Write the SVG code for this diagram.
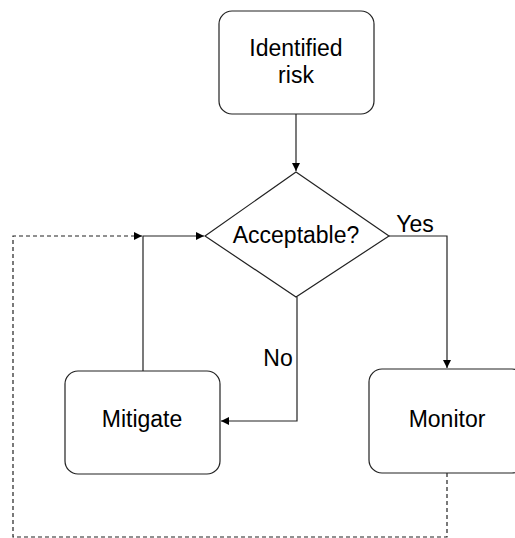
<svg xmlns="http://www.w3.org/2000/svg" width="515" height="538" viewBox="0 0 515 538">
<style>
.box{fill:#fff;stroke:#222;stroke-width:1.2}
.t{font-family:"Liberation Sans",Arial,sans-serif;font-size:23px;fill:#000;text-anchor:middle}
.c{fill:none;stroke:#222;stroke-width:1.2}
.d{fill:none;stroke:#222;stroke-width:1.2;stroke-dasharray:4,3}
</style>
<defs>
<marker id="a" viewBox="0 0 10 10" refX="10" refY="5" markerWidth="8" markerHeight="8" markerUnits="userSpaceOnUse" orient="auto">
<path d="M0,0 L10,5 L0,10 z" fill="#000"/>
</marker>
</defs>
<rect width="515" height="538" fill="#fff"/>
<g id="connectors">
<path class="c" d="M296,114 V171" marker-end="url(#a)"/>
<path class="c" d="M389,236 H447 V368" marker-end="url(#a)"/>
<path class="c" d="M297,297 V421 H221" marker-end="url(#a)"/>
<path class="c" d="M143,371 V236 H204" marker-end="url(#a)"/>
<path class="d" d="M447,473 V537 H13 V236 H142" marker-end="url(#a)"/>
</g>
<g id="identified">
<rect class="box" x="219" y="11" width="155" height="103" rx="13"/>
<text class="t" x="296" y="56">Identified</text>
<text class="t" x="296" y="83">risk</text>
</g>
<g id="acceptable">
<polygon class="box" points="296,172 389,236 296,297 205,236"/>
<text class="t" x="296" y="243">Acceptable?</text>
</g>
<g id="mitigate">
<rect class="box" x="65" y="371" width="155" height="103" rx="13"/>
<text class="t" x="142" y="427">Mitigate</text>
</g>
<g id="monitor">
<rect class="box" x="369" y="369" width="156" height="104" rx="13"/>
<text class="t" x="447" y="427">Monitor</text>
</g>
<g id="labels">
<text class="t" x="415" y="232">Yes</text>
<text class="t" x="278" y="366">No</text>
</g>
</svg>
